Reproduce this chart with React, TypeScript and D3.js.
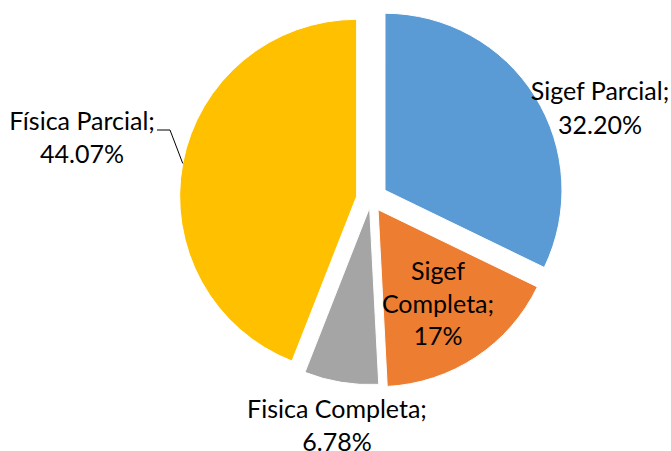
import React from "react";
import * as d3 from "d3";

const categories = ["Sigef Parcial", "Sigef Completa", "Fisica Completa", "Física Parcial"];
const values = [32.2, 17, 6.78, 44.07];
const valueLabels = ["32.20%", "17%", "6.78%", "44.07%"];
const colors = ["#5B9BD5", "#ED7D31", "#A5A5A5", "#FFC000"];

const W = 671;
const H = 451;
const CX = 371;
const CY = 199;
const R = 177;
const explode = [16.5, 12.8, 8.7, 14.6];
const FONT = "Lato, 'Open Sans', sans-serif";
const FS = 25;

export default function App() {
  const pie = d3.pie<number>().sort(null).value((d) => d).startAngle(0).endAngle(2 * Math.PI);
  const arcs = pie(values);
  const arcGen = d3.arc<d3.PieArcDatum<number>>().innerRadius(0).outerRadius(R);

  const offsets = arcs.map((a, i) => {
    const mid = (a.startAngle + a.endAngle) / 2;
    return [CX + explode[i] * Math.sin(mid), CY - explode[i] * Math.cos(mid)];
  });

  const labels = [
    { lines: ["Sigef Parcial;", valueLabels[0]], x: 600, y: 100, dy: 34 },
    { lines: ["Sigef", "Completa;", valueLabels[1]], x: 438, y: 280, dy: 32.5 },
    { lines: ["Fisica Completa;", valueLabels[2]], x: 337, y: 418, dy: 33 },
    { lines: ["Física Parcial;", valueLabels[3]], x: 82, y: 130, dy: 33 },
  ];

  // leader for Física Parcial: to the outer edge at the slice's mid angle
  const yi = 3;
  const ya = arcs[yi];
  const mid = (ya.startAngle + ya.endAngle) / 2;
  const ex = offsets[yi][0] + R * Math.sin(mid);
  const ey = offsets[yi][1] - R * Math.cos(mid);

  return (
    <svg width={W} height={H} style={{ position: "absolute", left: 0, top: 0, background: "#fff" }}>
      {arcs.map((a, i) => (
        <path
          key={categories[i]}
          d={arcGen(a) || ""}
          transform={`translate(${offsets[i][0]},${offsets[i][1]})`}
          fill={colors[i]}
          stroke="#fff"
          strokeWidth={1}
        />
      ))}
      <polyline
        points={`157,130 170,130 ${ex},${ey}`}
        fill="none"
        stroke="#000"
        strokeWidth={1}
      />
      {labels.map((l, i) => (
        <text
          key={i}
          x={l.x}
          y={l.y}
          textAnchor="middle"
          fontFamily={FONT}
          fontSize={FS}
          fill="#000"
        >
          {l.lines.map((t, j) => (
            <tspan key={j} x={l.x} y={l.y + j * l.dy}>
              {t}
            </tspan>
          ))}
        </text>
      ))}
    </svg>
  );
}
